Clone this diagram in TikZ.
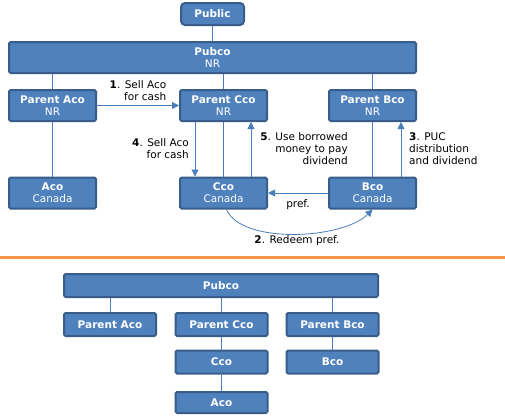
\documentclass[tikz,border=0pt]{standalone}
\usepackage{fontspec}
\setmainfont{DejaVu Sans}
\usepackage{xcolor}
\usetikzlibrary{positioning,arrows.meta,calc}
\definecolor{boxfill}{HTML}{4F81BD}
\definecolor{boxline}{HTML}{385D8A}
\definecolor{linkblue}{HTML}{4A7EBB}
\definecolor{sepline}{HTML}{F79646}
\begin{document}
\begin{tikzpicture}[
      x=1pt, y=-1pt,
      ent/.style={draw=boxline, fill=boxfill, line width=2pt, rounded corners=1.5pt, text=white, align=center, inner sep=0pt, font=\fontsize{10.5}{12}\selectfont, minimum width=87pt, minimum height=31pt},
      flat/.style={ent, minimum width=92pt, minimum height=23pt},
      link/.style={draw=linkblue, line width=0.8pt},
      arr/.style={link, -{Triangle[length=7pt,width=7pt]}},
      lbl/.style={font=\fontsize{10.5}{12}\selectfont, inner sep=0pt}
  ]
    \useasboundingbox (0,0) rectangle (505,415);

    % before
    \node[ent, minimum width=63pt, minimum height=22pt, rounded corners=4pt] (public) at (212.5,14) {\textbf{Public}};
    \node[ent, minimum width=407pt] (pubco) at (212.5,57.5) {\textbf{Pubco}\\NR};
    \node[ent] (parA) at (52.5,105.5) {\textbf{Parent Aco}\\NR};
    \node[ent] (parC) at (223.5,105.5) {\textbf{Parent Cco}\\NR};
    \node[ent] (parB) at (372.5,105.5) {\textbf{Parent Bco}\\NR};
    \node[ent] (aco) at (52.5,193) {\textbf{Aco}\\Canada};
    \node[ent] (cco) at (223.5,193) {\textbf{Cco}\\Canada};
    \node[ent] (bco) at (372.5,193) {\textbf{Bco}\\Canada};

    \draw[link] (public) -- (pubco);
    \draw[link] (parA.north) -- (parA.north |- pubco.south);
    \draw[link] (parC.north) -- (parC.north |- pubco.south);
    \draw[link] (parB.north) -- (parB.north |- pubco.south);
    \draw[link] (parA) -- (aco);
    \draw[link] (parC) -- (cco);
    \draw[link] (parB) -- (bco);

    \draw[arr] (parA) -- node[lbl, above=4pt, align=right] {\textbf{1}. Sell Aco\\for cash} (parC);
    \draw[arr] ([xshift=-28.5pt]parC.south) -- ([xshift=-28.5pt]cco.north);
    \draw[arr] ([xshift=27.5pt]cco.north) -- ([xshift=27.5pt]parC.south);
    \draw[arr] ([xshift=28.5pt]bco.north) -- ([xshift=28.5pt]parB.south);
    \draw[arr] (bco) -- node[lbl, below=6pt] {pref.} (cco);
    \draw[arr] ([xshift=3pt]cco.south) .. controls +(15,35) and +(-30,30) .. (bco.south);

    \node[lbl, align=right, anchor=east] (lblfour) at (189,149) {\textbf{4}. Sell Aco\\for cash};
    \node[lbl, align=right, anchor=east] (lblfive) at (348,149) {\textbf{5}. Use borrowed\\money to pay\\dividend};
    \node[lbl, align=left, anchor=west] (lblthree) at (409,149) {\textbf{3}. PUC\\distribution\\and dividend};
    \node[lbl] (lbltwo) at (297,241) {\textbf{2}. Redeem pref.};

    % separator
    \coordinate (sepL) at (0,257);
    \coordinate (sepR) at (505,257);
    \draw[draw=sepline, line width=3pt] (sepL) -- (sepR);

    % after
    \node[flat, minimum width=314pt] (pubcoB) at (221,285.5) {\textbf{Pubco}};
    \node[flat] (parAB) at (110,324.5) {\textbf{Parent Aco}};
    \node[flat] (parCB) at (221.5,324.5) {\textbf{Parent Cco}};
    \node[flat] (parBB) at (332.5,324.5) {\textbf{Parent Bco}};
    \node[flat] (ccoB) at (221.5,362) {\textbf{Cco}};
    \node[flat] (bcoB) at (332.5,362) {\textbf{Bco}};
    \node[flat, minimum height=21pt] (acoB) at (221.5,402.5) {\textbf{Aco}};

    \draw[link] (parAB.north) -- (parAB.north |- pubcoB.south);
    \draw[link] (parCB.north) -- (parCB.north |- pubcoB.south);
    \draw[link] (parBB.north) -- (parBB.north |- pubcoB.south);
    \draw[link] (parCB) -- (ccoB);
    \draw[link] (parBB) -- (bcoB);
    \draw[link] (ccoB) -- (acoB);
  \end{tikzpicture}
\end{document}
